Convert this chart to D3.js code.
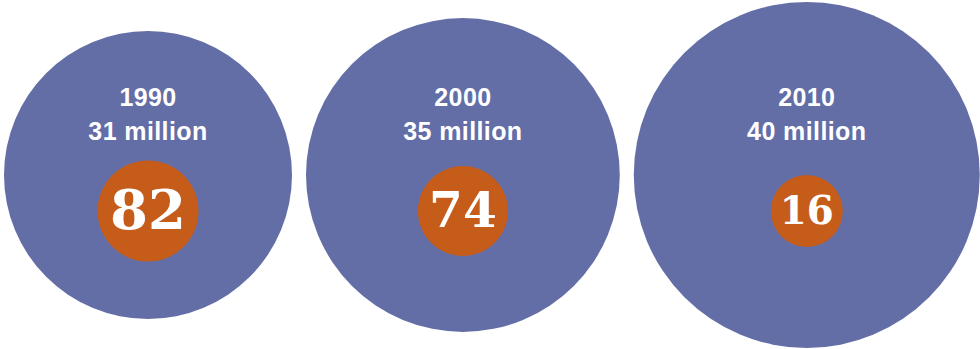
<!DOCTYPE html>
<html>
<head>
    <title>Population circles</title>
    <script src="https://d3js.org/d3.v7.min.js"></script>
    <style>
        body { margin: 0; background: #fff; }
    </style>
</head>
<body>
    <div id="container"></div>
    <script>
        const width = 980;
        const height = 349;

        const years = ['1990', '2000', '2010'];
        const population = [31, 35, 40]; // millions
        const counts = [82, 74, 16];

        // big circle radius grows with population
        const rScale = d3.scaleLinear()
            .domain([31, 40])
            .range([144, 173]);

        // inner orange circle radius
        const rInner = d3.scaleLinear()
            .domain([16, 74, 82])
            .range([36, 45, 50.5]);

        const gap = 14;
        const cy = 175;
        const innerCy = 211;

        // pack circles left to right
        const centers = [];
        let x = 4;
        for (let i = 0; i < population.length; i++) {
            const r = rScale(population[i]);
            centers.push(x + r);
            x += 2 * r + gap;
        }

        const svg = d3.select("#container").append("svg")
            .attr("width", width)
            .attr("height", height);

        const g = svg.selectAll("g.item")
            .data(years)
            .join("g")
            .attr("class", "item")
            .attr("transform", (d, i) => `translate(${centers[i]},0)`);

        g.append("circle")
            .attr("cx", 0)
            .attr("cy", cy)
            .attr("r", (d, i) => rScale(population[i]))
            .attr("fill", "#636ea6");

        g.append("text")
            .attr("x", 0)
            .attr("y", 106)
            .attr("text-anchor", "middle")
            .attr("fill", "#fff")
            .style("font-family", "'Liberation Sans', Arial, sans-serif")
            .style("font-weight", "bold")
            .style("font-size", "25px")
            .style("letter-spacing", "0.4px")
            .text(d => d);

        g.append("text")
            .attr("x", 0)
            .attr("y", 140)
            .attr("text-anchor", "middle")
            .attr("fill", "#fff")
            .style("font-family", "'Liberation Sans', Arial, sans-serif")
            .style("font-weight", "bold")
            .style("font-size", "25px")
            .style("letter-spacing", "0.4px")
            .text((d, i) => population[i] + " million");

        g.append("circle")
            .attr("cx", 0)
            .attr("cy", innerCy)
            .attr("r", (d, i) => rInner(counts[i]))
            .attr("fill", "#c65c1a");

        g.append("text")
            .attr("x", 0)
            .attr("y", innerCy)
            .attr("dy", "0.33em")
            .attr("text-anchor", "middle")
            .attr("fill", "#fff")
            .style("font-family", "'DejaVu Serif', serif")
            .style("font-weight", "bold")
            .style("font-size", (d, i) => rInner(counts[i]) * 1.08 + "px")
            .text((d, i) => counts[i]);
    </script>
</body>
</html>
